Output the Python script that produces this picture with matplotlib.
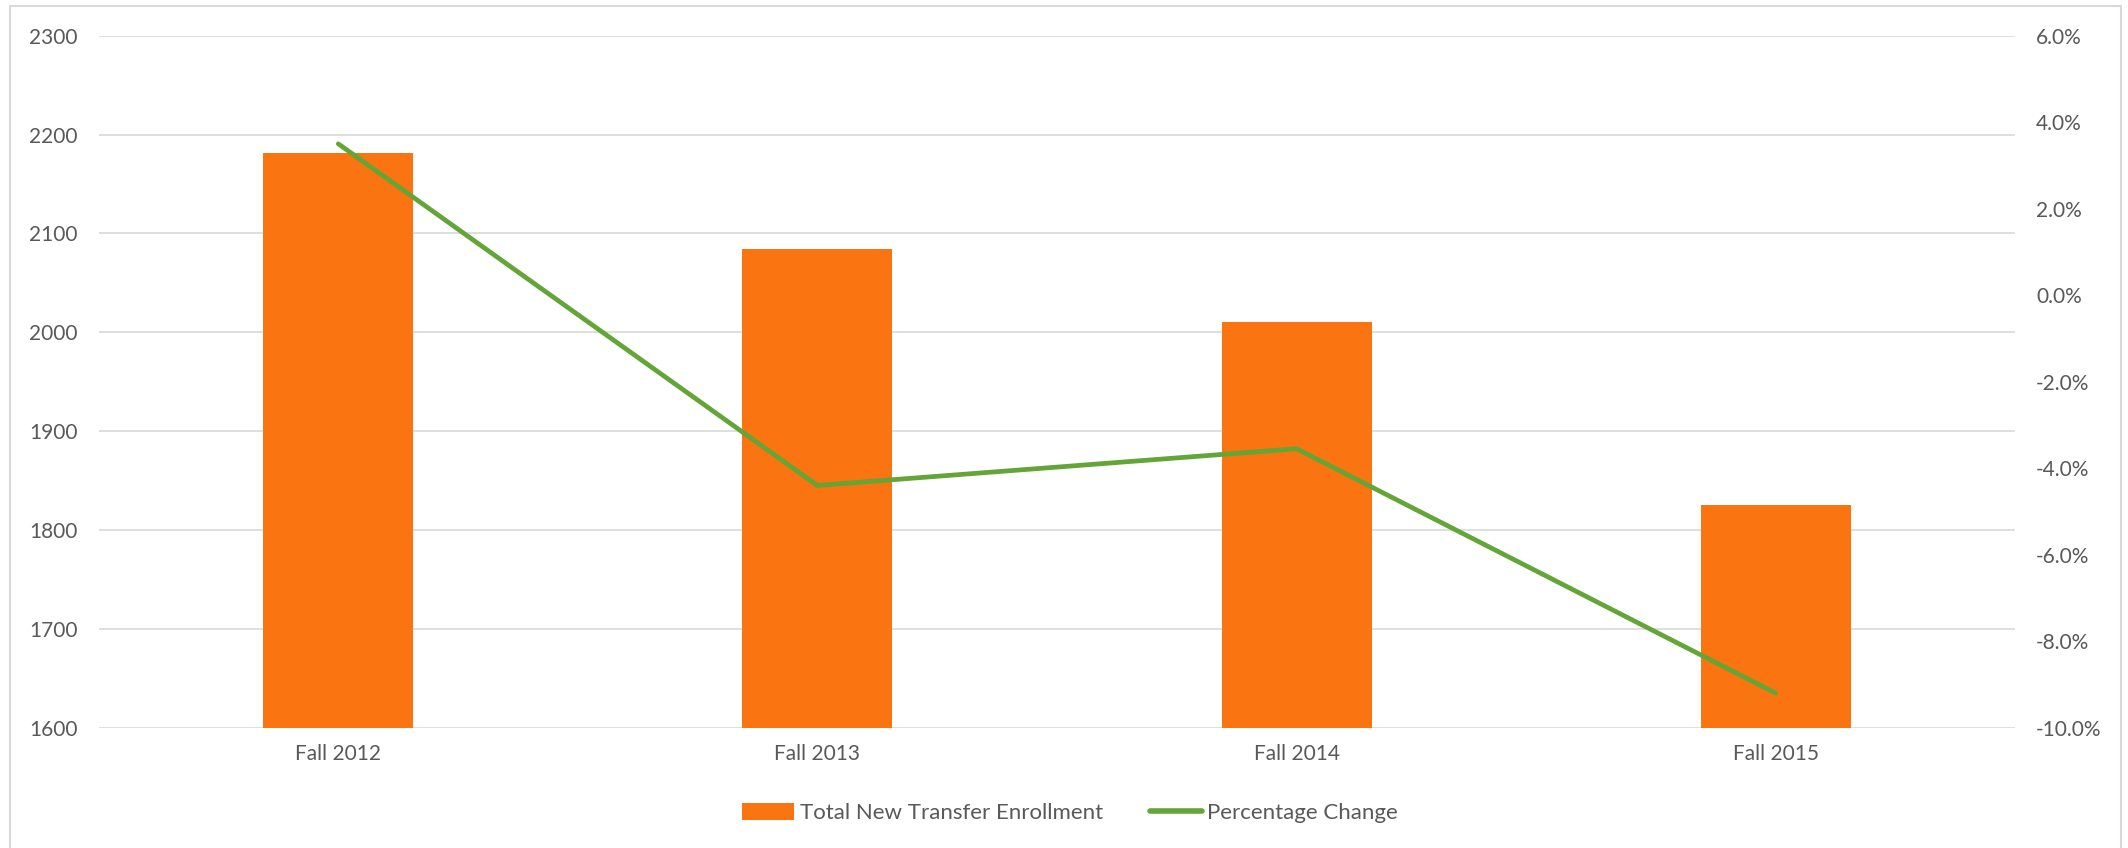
import matplotlib
matplotlib.use("Agg")
import matplotlib.pyplot as plt
from matplotlib.patches import Patch, Rectangle
from matplotlib.lines import Line2D
from matplotlib.ticker import FuncFormatter

# --- data ---
terms = ["Fall 2012", "Fall 2013", "Fall 2014", "Fall 2015"]
enrollment = [2181, 2084, 2010, 1825]
pct_change = [3.5, -4.4, -3.55, -9.2]

enroll_ticks = [1600, 1700, 1800, 1900, 2000, 2100, 2200, 2300]
pct_ticks = [-10, -8, -6, -4, -2, 0, 2, 4, 6]

orange = "#FA7411"
green = "#63A537"
grid_c = "#D9D9D9"
text_c = "#595959"

plt.rcParams["font.family"] = ["Lato", "DejaVu Sans"]

fig = plt.figure(figsize=(21.28, 8.48), dpi=100)
fig.patch.set_facecolor("white")

# outer chart border
fig.patches.append(Rectangle((10 / 2128, -0.01), 2111 / 2128, 1 - 6 / 848 + 0.01,
                             transform=fig.transFigure, fill=False,
                             edgecolor=grid_c, linewidth=1.5))

ax = fig.add_axes([0.0464, 0.1419, 0.9006, 0.8160])
ax2 = ax.twinx()

x = list(range(len(terms)))
ax.bar(x, [v - 1600 for v in enrollment], bottom=1600, width=0.313,
       color=orange, zorder=3)
ax.set_xlim(-0.5, 3.5)
ax.set_ylim(1600, 2300)
ax.set_yticks(enroll_ticks)
ax.set_xticks(x)
ax.set_xticklabels(terms)
ax.grid(axis="y", color=grid_c, linewidth=1.2, zorder=0)
ax.set_axisbelow(True)

ax2.plot(x, pct_change, color=green, linewidth=3.4,
         solid_capstyle="round", solid_joinstyle="round", zorder=4)
ax2.set_ylim(-10, 6)
ax2.set_yticks(pct_ticks)
ax2.yaxis.set_major_formatter(FuncFormatter(lambda v, p: f"{v:.1f}%"))

for a in (ax, ax2):
    for s in a.spines.values():
        s.set_visible(False)

ax.tick_params(axis="y", length=0, pad=15, labelsize=15, labelcolor=text_c)
ax.tick_params(axis="x", length=0, pad=12, labelsize=15, labelcolor=text_c)
ax2.tick_params(axis="y", length=0, pad=15, labelsize=15, labelcolor=text_c)

handles = [
    Patch(facecolor=orange, edgecolor="none", label="Total New Transfer Enrollment"),
    Line2D([0], [0], color=green, linewidth=4, solid_capstyle="round",
           label="Percentage Change"),
]
fig.legend(handles=handles, loc="center", bbox_to_anchor=(1070 / 2128, 1 - 813 / 848),
           ncol=2, frameon=False, fontsize=16, handlelength=2.35, handleheight=0.8,
           handletextpad=0.25, columnspacing=2.1, labelcolor=text_c)

fig.savefig("out.png", dpi=100, facecolor="white")
